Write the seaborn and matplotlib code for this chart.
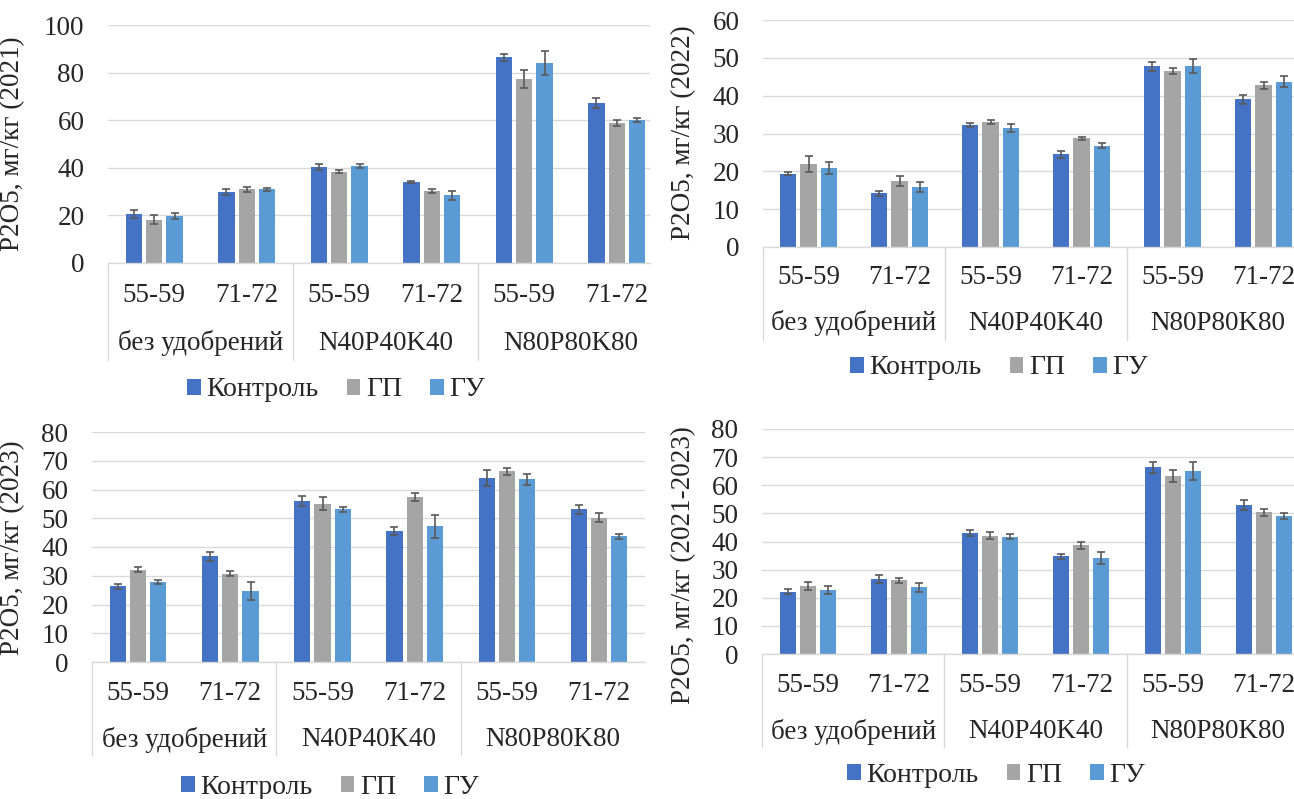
import numpy as np
import pandas as pd
import matplotlib
matplotlib.use("Agg")
import matplotlib.pyplot as plt
import matplotlib.transforms as mtransforms
from matplotlib.patches import Patch
import seaborn as sns

# ---------------- data ----------------
groups = ["без удобрений", "N40P40K40", "N80P80K80"]
ages = ["55-59", "71-72"]
series = ["Контроль", "ГП", "ГУ"]
colors = ["#4472C4", "#A5A5A5", "#5B9BD5"]

# 2021
ctrl_2021 = [20.6, 29.8, 40.3, 34.1, 86.4, 67.3]
gp_2021 = [18.2, 30.9, 38.3, 30.3, 77.2, 58.7]
gu_2021 = [19.9, 30.9, 40.8, 28.4, 84.2, 60.0]
ctrl_2021_err = [1.6, 1.2, 1.2, 0.3, 1.4, 2.2]
gp_2021_err = [2.0, 0.9, 0.6, 1.0, 3.8, 1.2]
gu_2021_err = [1.3, 0.5, 1.0, 2.0, 5.0, 0.9]

# 2022
ctrl_2022 = [19.4, 14.2, 32.3, 24.5, 47.8, 39.0]
gp_2022 = [21.9, 17.4, 33.0, 28.7, 46.5, 42.7]
gu_2022 = [20.8, 15.9, 31.5, 26.8, 47.8, 43.7]
ctrl_2022_err = [0.5, 0.6, 0.5, 0.9, 1.2, 1.2]
gp_2022_err = [2.1, 1.4, 0.6, 0.5, 0.8, 0.9]
gu_2022_err = [1.6, 1.4, 1.0, 0.6, 1.8, 1.4]

# 2023
ctrl_2023 = [26.3, 36.8, 56.0, 45.6, 64.0, 53.1]
gp_2023 = [32.1, 30.7, 55.1, 57.4, 66.4, 50.2]
gu_2023 = [27.8, 24.7, 53.1, 47.2, 63.5, 43.7]
ctrl_2023_err = [0.8, 1.6, 1.6, 1.3, 2.7, 1.6]
gp_2023_err = [0.8, 0.8, 2.2, 1.3, 1.2, 1.6]
gu_2023_err = [0.8, 3.2, 0.8, 4.0, 1.9, 0.8]

# 2021-2023
ctrl_avg = [22.2, 26.7, 43.0, 34.7, 66.4, 52.9]
gp_avg = [24.2, 26.2, 42.1, 38.7, 63.4, 50.4]
gu_avg = [22.8, 23.7, 41.7, 34.2, 64.9, 49.1]
ctrl_avg_err = [0.9, 1.3, 1.0, 0.8, 1.9, 1.7]
gp_avg_err = [1.5, 1.0, 1.3, 1.2, 2.2, 1.2]
gu_avg_err = [1.3, 1.7, 0.8, 2.2, 3.2, 1.0]

ylabels = ["P2O5, мг/кг (2021)", "P2O5, мг/кг (2022)",
           "P2O5, мг/кг (2023)", "P2O5, мг/кг (2021-2023)"]
ymax = [100, 60, 80, 80]
ystep = [20, 10, 10, 10]

panel_values = [
    (ctrl_2021, gp_2021, gu_2021),
    (ctrl_2022, gp_2022, gu_2022),
    (ctrl_2023, gp_2023, gu_2023),
    (ctrl_avg, gp_avg, gu_avg),
]
panel_errors = [
    (ctrl_2021_err, gp_2021_err, gu_2021_err),
    (ctrl_2022_err, gp_2022_err, gu_2022_err),
    (ctrl_2023_err, gp_2023_err, gu_2023_err),
    (ctrl_avg_err, gp_avg_err, gu_avg_err),
]

# ---------------- layout (pixels) ----------------
W, H = 1294, 799
# left, right(visible), top, bottom, category width px
boxes = [
    (108, 650, 25, 263, 92.5),
    (763, 1294, 20, 247, 91.0),
    (92, 645, 432, 662, 92.2),
    (762, 1294, 429, 654, 91.25),
]
ylabel_pos = [(25, 144), (696, 133), (25, 548), (696, 565)]
sub_off = [32, 31, 31, 31]
grp_off = [80, 76, 78, 78]
sep_off = [97, 93, 93, 93]
legend_pos = [(336, 390), (999, 368), (330, 787), (996, 775)]

sns.set_theme(style="white")
plt.rcParams["font.family"] = ["Liberation Serif", "DejaVu Serif"]
FS = 19.5
GRID = "#D9D9D9"
TXT = "#262626"

fig = plt.figure(figsize=(W / 100, H / 100), dpi=100)

cats = [f"{g}|{a}" for g in groups for a in ages]

for p in range(4):
    L, R, T, B, cw = boxes[p]
    ax = fig.add_axes([L / W, 1 - B / H, (R - L) / W, (B - T) / H])
    vals = panel_values[p]
    errs = panel_errors[p]
    df = pd.DataFrame({
        "cat": cats * 3,
        "series": np.repeat(series, len(cats)),
        "value": np.concatenate(vals),
    })
    sns.barplot(data=df, x="cat", y="value", hue="series", order=cats,
                hue_order=series, palette=colors, saturation=1,
                width=0.66, gap=0.2, errorbar=None, legend=False,
                linewidth=0, ax=ax)
    bar_conts = list(ax.containers)
    for s_idx, cont in enumerate(bar_conts):
        xs = [b.get_x() + b.get_width() / 2 for b in cont]
        hs = [b.get_height() for b in cont]
        ax.errorbar(xs, hs, yerr=errs[s_idx], fmt="none", ecolor="#595959",
                    elinewidth=1.2, capsize=3, capthick=1.2, zorder=5)

    xmax = (R - L) / cw - 0.5
    ax.set_xlim(-0.5, xmax)
    ax.set_ylim(0, ymax[p])
    ax.set_yticks(np.arange(0, ymax[p] + 1, ystep[p]))
    ax.tick_params(axis="y", length=0, pad=17, labelsize=FS, labelcolor=TXT)
    ax.set_xticks([])
    ax.set_xlabel("")
    ax.set_ylabel(ylabels[p], fontsize=19.5, color=TXT)
    lx, ly = ylabel_pos[p]
    ax.yaxis.set_label_coords((lx - L) / (R - L), (B - ly) / (B - T))
    ax.yaxis.grid(True, color=GRID, lw=1)
    ax.set_axisbelow(True)
    for sp in ["top", "right", "left"]:
        ax.spines[sp].set_visible(False)
    ax.spines["bottom"].set_color(GRID)
    ax.spines["bottom"].set_linewidth(1)

    # multi-level category labels
    for i, c in enumerate(cats):
        ax.annotate(c.split("|")[1], xy=(i, 0), xycoords=("data", "axes fraction"),
                    xytext=(0, -sub_off[p] * 0.72), textcoords="offset points",
                    ha="center", va="center", fontsize=FS, color=TXT,
                    annotation_clip=False)
    for g_idx, g in enumerate(groups):
        gx = g_idx * 2 + 0.5
        ax.annotate(g, xy=(gx, 0), xycoords=("data", "axes fraction"),
                    xytext=(0, -grp_off[p] * 0.72), textcoords="offset points",
                    ha="center", va="center", fontsize=FS, color=TXT,
                    annotation_clip=False)
    trans = mtransforms.blended_transform_factory(ax.transData, ax.transAxes)
    frac = sep_off[p] / (B - T)
    for sx in [-0.5, 1.5, 3.5, 5.5]:
        if sx <= xmax + 1e-6:
            ax.plot([sx, sx], [0, -frac], transform=trans, clip_on=False,
                    color=GRID, lw=1)

    handles = [Patch(facecolor=c, edgecolor="none", label=s)
               for s, c in zip(series, colors)]
    cx, cy = legend_pos[p]
    fig.legend(handles=handles, loc="center", bbox_to_anchor=(cx / W, 1 - cy / H),
               ncol=3, frameon=False, fontsize=20, handlelength=0.5,
               handleheight=0.5, handletextpad=0.2, columnspacing=1.0,
               labelcolor=TXT)

fig.savefig("out.png", dpi=100)
